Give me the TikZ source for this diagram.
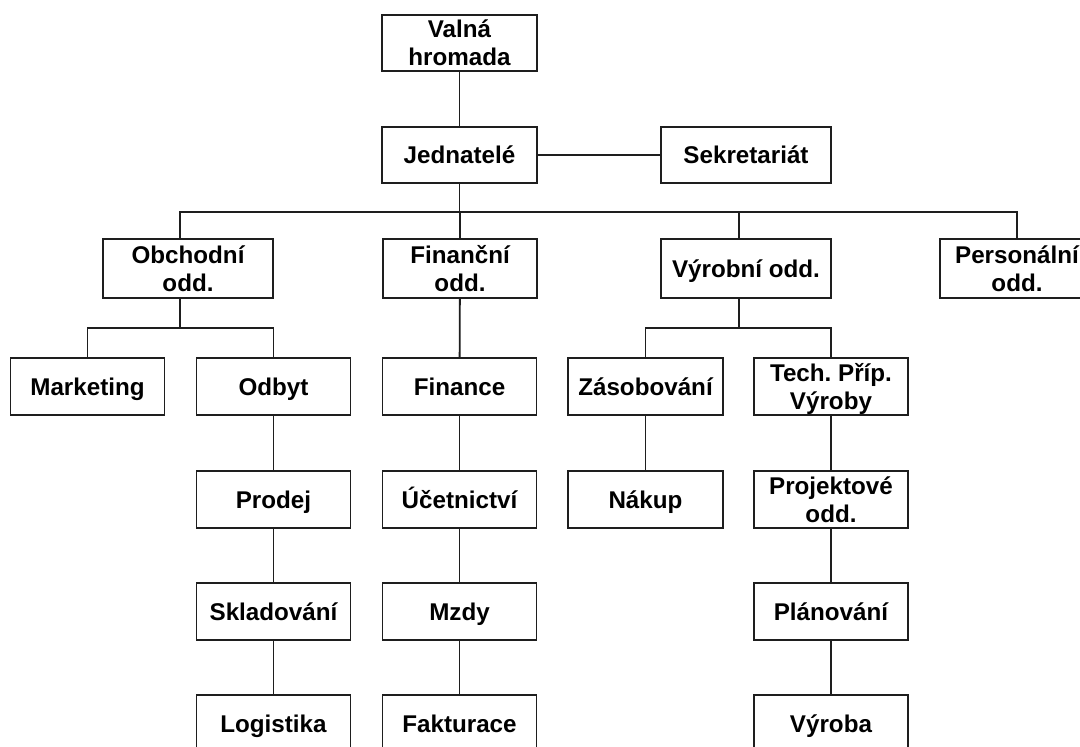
\documentclass[tikz,border=0pt]{standalone}
\usepackage{fontspec}
\setmainfont{Liberation Sans}
\begin{document}
\frenchspacing
\begin{tikzpicture}[x=1bp,y=-1bp,
  line width=1.8bp, draw={rgb,255:red,30;green,30;blue,30},
  box/.style={draw, rectangle, fill=white, inner sep=0pt, align=center,
    minimum height=56bp, minimum width=155bp,
    text height=17bp, text depth=0bp,
    font=\fontsize{24.2bp}{28bp}\selectfont\bfseries\frenchspacing},
  two/.style={text height=45bp, text depth=0bp},
  wbox/.style={box, minimum width=170bp, minimum height=59bp},
  rbox/.style={box, minimum width=154bp, minimum height=57bp}]
\useasboundingbox (0,0) rectangle (1080,747);
\clip (0,0) rectangle (1080,747);
\fill[white] (0,0) rectangle (1080,747);
% coordinates of the two horizontal bars
\coordinate (h1) at (0,212);
\coordinate (h2) at (0,328);
% level 0 and 1
\node[box, two] (valna) at (459.5,43) {Valná\\hromada};
\node[box] (jed) at (459.5,155) {Jednatelé};
\node[box, minimum width=170bp] (sek) at (746,155) {Sekretariát};
% level 2
\node[wbox, two] (obch) at (188,268.5) {Obchodní\\odd.};
\node[box, two, minimum width=154bp, minimum height=59bp] (fin) at (460,268.5) {Finanční\\odd.};
\node[wbox] (vyr) at (746,268.5) {Výrobní odd.};
\node[box, two, minimum width=154bp, minimum height=59bp] (pers) at (1017,268.5) {Personální\\odd.};
% level 3
\node[rbox] (mark) at (87.5,386.5) {Marketing};
\node[rbox] (odbyt) at (273.5,386.5) {Odbyt};
\node[rbox] (finance) at (459.5,386.5) {Finance};
\node[rbox, minimum width=155bp] (zas) at (645.5,386.5) {Zásobování};
\node[rbox, two] (tech) at (831,386.5) {Tech. Příp.\\Výroby};
% level 4
\node[rbox] (prodej) at (273.5,499.5) {Prodej};
\node[rbox] (uct) at (459.5,499.5) {Účetnictví};
\node[rbox, minimum width=155bp] (nakup) at (645.5,499.5) {Nákup};
\node[rbox, two] (proj) at (831,499.5) {Projektové\\odd.};
% level 5
\node[rbox] (skl) at (273.5,611.5) {Skladování};
\node[rbox] (mzdy) at (459.5,611.5) {Mzdy};
\node[rbox] (plan) at (831,611.5) {Plánování};
% level 6
\node[rbox] (log) at (273.5,723.5) {Logistika};
\node[rbox] (fakt) at (459.5,723.5) {Fakturace};
\node[rbox] (vyroba) at (831,723.5) {Výroba};
% connectors
\draw (valna) -- (jed);
\draw (jed) -- (sek);
\draw (jed.south) -- (jed.south |- h1);
\draw ([xshift=-8bp]obch.north) |- (pers.north |- h1) -- (pers.north);
\draw (fin.north) -- (fin.north |- h1);
\draw ([xshift=-7bp]vyr.north) -- ([xshift=-7bp]vyr.north |- h1);
\draw ([xshift=-8bp]obch.south) -- ([xshift=-8bp]obch.south |- h2);
\draw (mark.north) |- (odbyt.north |- h2) -- (odbyt.north);
\draw ([xshift=-7bp]vyr.south) -- ([xshift=-7bp]vyr.south |- h2);
\draw (zas.north) |- (tech.north |- h2) -- (tech.north);
\draw (odbyt) -- (prodej);
\draw (prodej) -- (skl);
\draw (skl) -- (log);
\draw (fin) -- (finance);
\draw (finance) -- (uct);
\draw (uct) -- (mzdy);
\draw (mzdy) -- (fakt);
\draw (zas) -- (nakup);
\draw (tech) -- (proj);
\draw (proj) -- (plan);
\draw (plan) -- (vyroba);
\end{tikzpicture}
\end{document}
